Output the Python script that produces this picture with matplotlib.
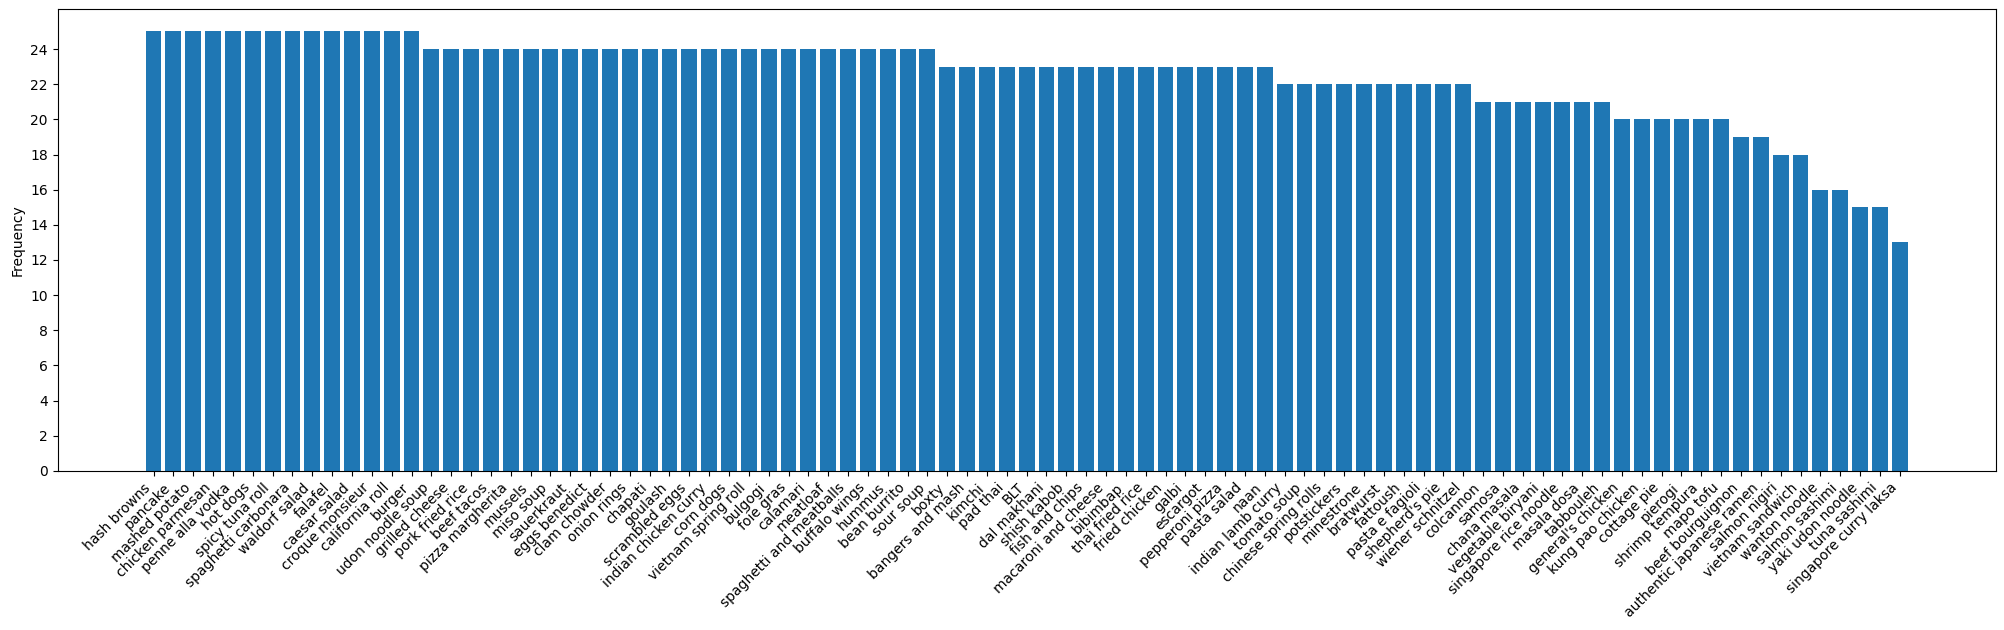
import matplotlib
matplotlib.use("Agg")
import matplotlib.pyplot as plt

dishes = [
    "hash browns", "pancake", "mashed potato", "chicken parmesan", "penne alla vodka",
    "hot dogs", "spicy tuna roll", "spaghetti carbonara", "waldorf salad", "falafel",
    "caesar salad", "croque monsieur", "california roll", "burger",
    "udon noodle soup", "grilled cheese", "pork fried rice", "beef tacos", "pizza margherita",
    "mussels", "miso soup", "sauerkraut", "eggs benedict", "clam chowder", "onion rings",
    "chapati", "goulash", "scrambled eggs", "indian chicken curry", "corn dogs",
    "vietnam spring roll", "bulgogi", "foie gras", "calamari", "meatloaf",
    "spaghetti and meatballs", "buffalo wings", "hummus", "bean burrito", "sour soup",
    "boxty", "bangers and mash", "kimchi", "pad thai", "BLT", "dal makhani", "shish kabob",
    "fish and chips", "macaroni and cheese", "bibimbap", "thai fried rice", "fried chicken",
    "galbi", "escargot", "pepperoni pizza", "pasta salad", "naan",
    "indian lamb curry", "tomato soup", "chinese spring rolls", "potstickers", "minestrone",
    "bratwurst", "fattoush", "pasta e fagioli", "shepherd's pie", "wiener schnitzel",
    "colcannon", "samosa", "chana masala", "vegetable biryani", "singapore rice noodle",
    "masala dosa", "tabbouleh",
    "general's chicken", "kung pao chicken", "cottage pie", "pierogi", "shrimp tempura",
    "mapo tofu",
    "beef bourguignon", "authentic japanese ramen",
    "salmon nigiri", "vietnam sandwich",
    "wanton noodle", "salmon sashimi",
    "yaki udon noodle", "tuna sashimi",
    "singapore curry laksa",
]

frequency = (
    [25] * 14 + [24] * 26 + [23] * 17 + [22] * 10 + [21] * 7 + [20] * 6
    + [19] * 2 + [18] * 2 + [16] * 2 + [15] * 2 + [13] * 1
)

fig, ax = plt.subplots(figsize=(20.04, 6.3), dpi=100)
fig.subplots_adjust(left=0.0287, right=0.9959, top=0.985, bottom=0.2524)

ax.bar(dishes, frequency, color="#1f77b4")
ax.set_ylabel("Frequency")
ax.set_yticks(range(0, 25, 2))
plt.setp(ax.get_xticklabels(), rotation=45, ha="right")

fig.savefig("out.png", dpi=100)
